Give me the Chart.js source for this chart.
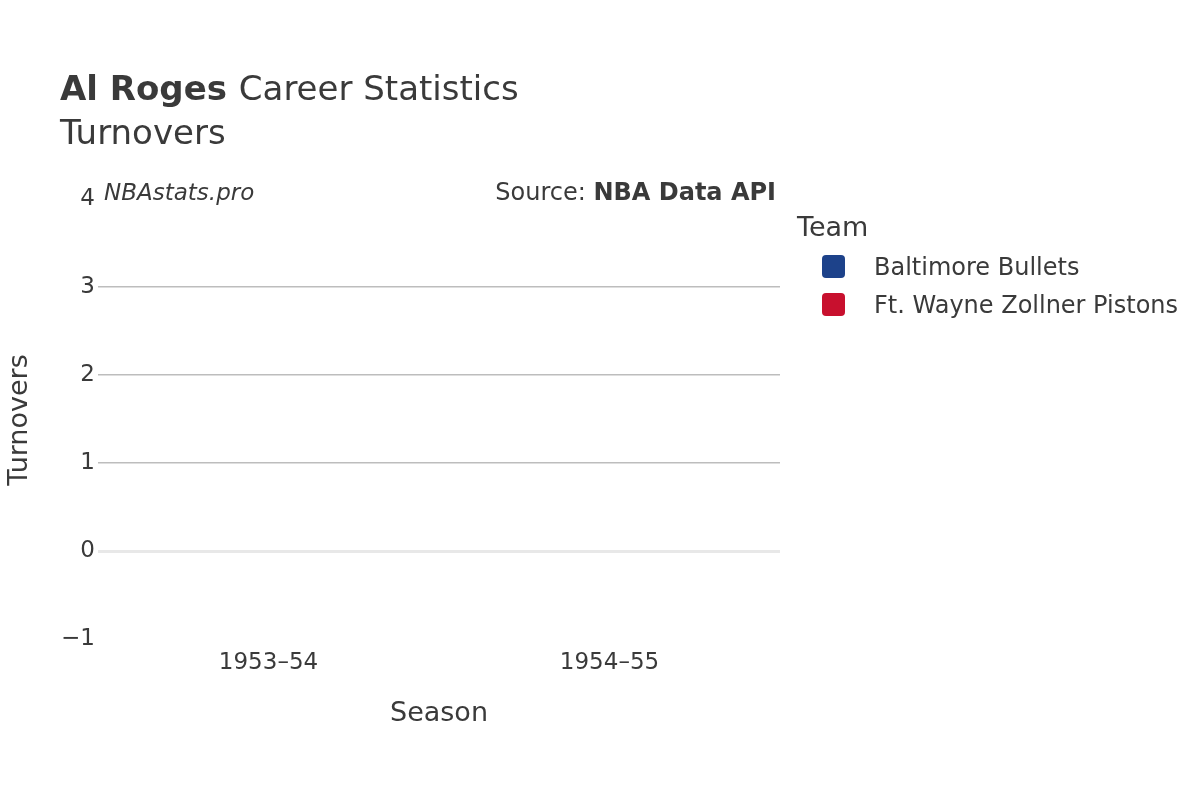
<!DOCTYPE html>
<html><head><meta charset="utf-8">
<script src="https://cdn.jsdelivr.net/npm/chart.js@4"></script>
<style>html,body{margin:0;padding:0;background:#fff}#w{width:1200px;height:800px}</style>
</head><body><div id="w"><canvas id="c" width="1200" height="800"></canvas></div>
<script>
const seasons = ["1953–54", "1954–55"];
const teams = ["Baltimore Bullets", "Ft. Wayne Zollner Pistons"];
const teamColors = ["#1d428a", "#c8102e"];
const baltimore = [null, 0];
const ftWayne = [0, null];
const yTicks = [-1, 0, 1, 2, 3, 4];
const F = "'DejaVu Sans', 'Open Sans', sans-serif";
const txt = "#3a3a3a";

const deco = {
  id: "deco",
  afterDraw(ch) {
    const c = ch.ctx; c.save(); c.fillStyle = txt; c.textBaseline = "alphabetic";
    c.font = "bold 34px " + F; c.textAlign = "left";
    c.fillText("Al Roges", 60, 100);
    const w = c.measureText("Al Roges ").width;
    c.font = "34px " + F; c.fillText("Career Statistics", 60 + w, 100);
    c.fillText("Turnovers", 60, 144);
    c.font = "italic 23px " + F; c.fillText("NBAstats.pro", 104, 200);
    c.textAlign = "right";
    c.font = "bold 24px " + F; c.fillText("NBA Data API", 776, 200);
    const bw = c.measureText("NBA Data API").width;
    c.font = "24px " + F; c.fillText("Source: ", 776 - bw, 200);
    c.textAlign = "center"; c.font = "27px " + F;
    c.fillText("Season", 439, 721);
    c.save(); c.translate(27, 420); c.rotate(-Math.PI / 2); c.fillText("Turnovers", 0, 0); c.restore();
    c.textAlign = "left"; c.font = "27px " + F; c.fillText("Team", 797, 236);
    c.font = "24px " + F;
    teams.forEach((t, i) => {
      const y = 266 + i * 38;
      c.fillStyle = teamColors[i];
      c.beginPath(); c.roundRect(822, y - 11, 23, 23, 4); c.fill();
      c.fillStyle = txt; c.fillText(t, 874, y + 9);
    });
    c.restore();
  }
};

new Chart(document.getElementById("c"), {
  type: "bar",
  data: { labels: seasons, datasets: [
    { label: teams[0], data: baltimore, backgroundColor: teamColors[0] },
    { label: teams[1], data: ftWayne, backgroundColor: teamColors[1] }
  ]},
  options: {
    responsive: false, animation: false,
    layout: { padding: { top: 199, right: 420, left: 0, bottom: 0 } },
    plugins: { legend: { display: false }, tooltip: { enabled: false } },
    scales: {
      x: { grid: { display: false }, border: { display: false },
        ticks: { color: txt, font: { family: F, size: 23 }, padding: 2 },
        afterFit(s) { s.height = 161; } },
      y: { min: -1, max: 4, border: { display: false },
        afterBuildTicks(s) { s.ticks = yTicks.map(v => ({ value: v })); },
        grid: { drawTicks: false,
          color: x => x.tick.value === 0 ? "#e8e8e8" : (x.tick.value === 4 || x.tick.value === -1 ? "rgba(0,0,0,0)" : "#bdbdbd"),
          lineWidth: x => x.tick.value === 0 ? 3 : 1.5 },
        ticks: { color: txt, font: { family: F, size: 23 }, padding: 3,
          callback: v => v < 0 ? "−" + Math.abs(v) : String(v) },
        afterFit(s) { s.width = 98; } }
    }
  },
  plugins: [deco]
});
</script></body></html>
